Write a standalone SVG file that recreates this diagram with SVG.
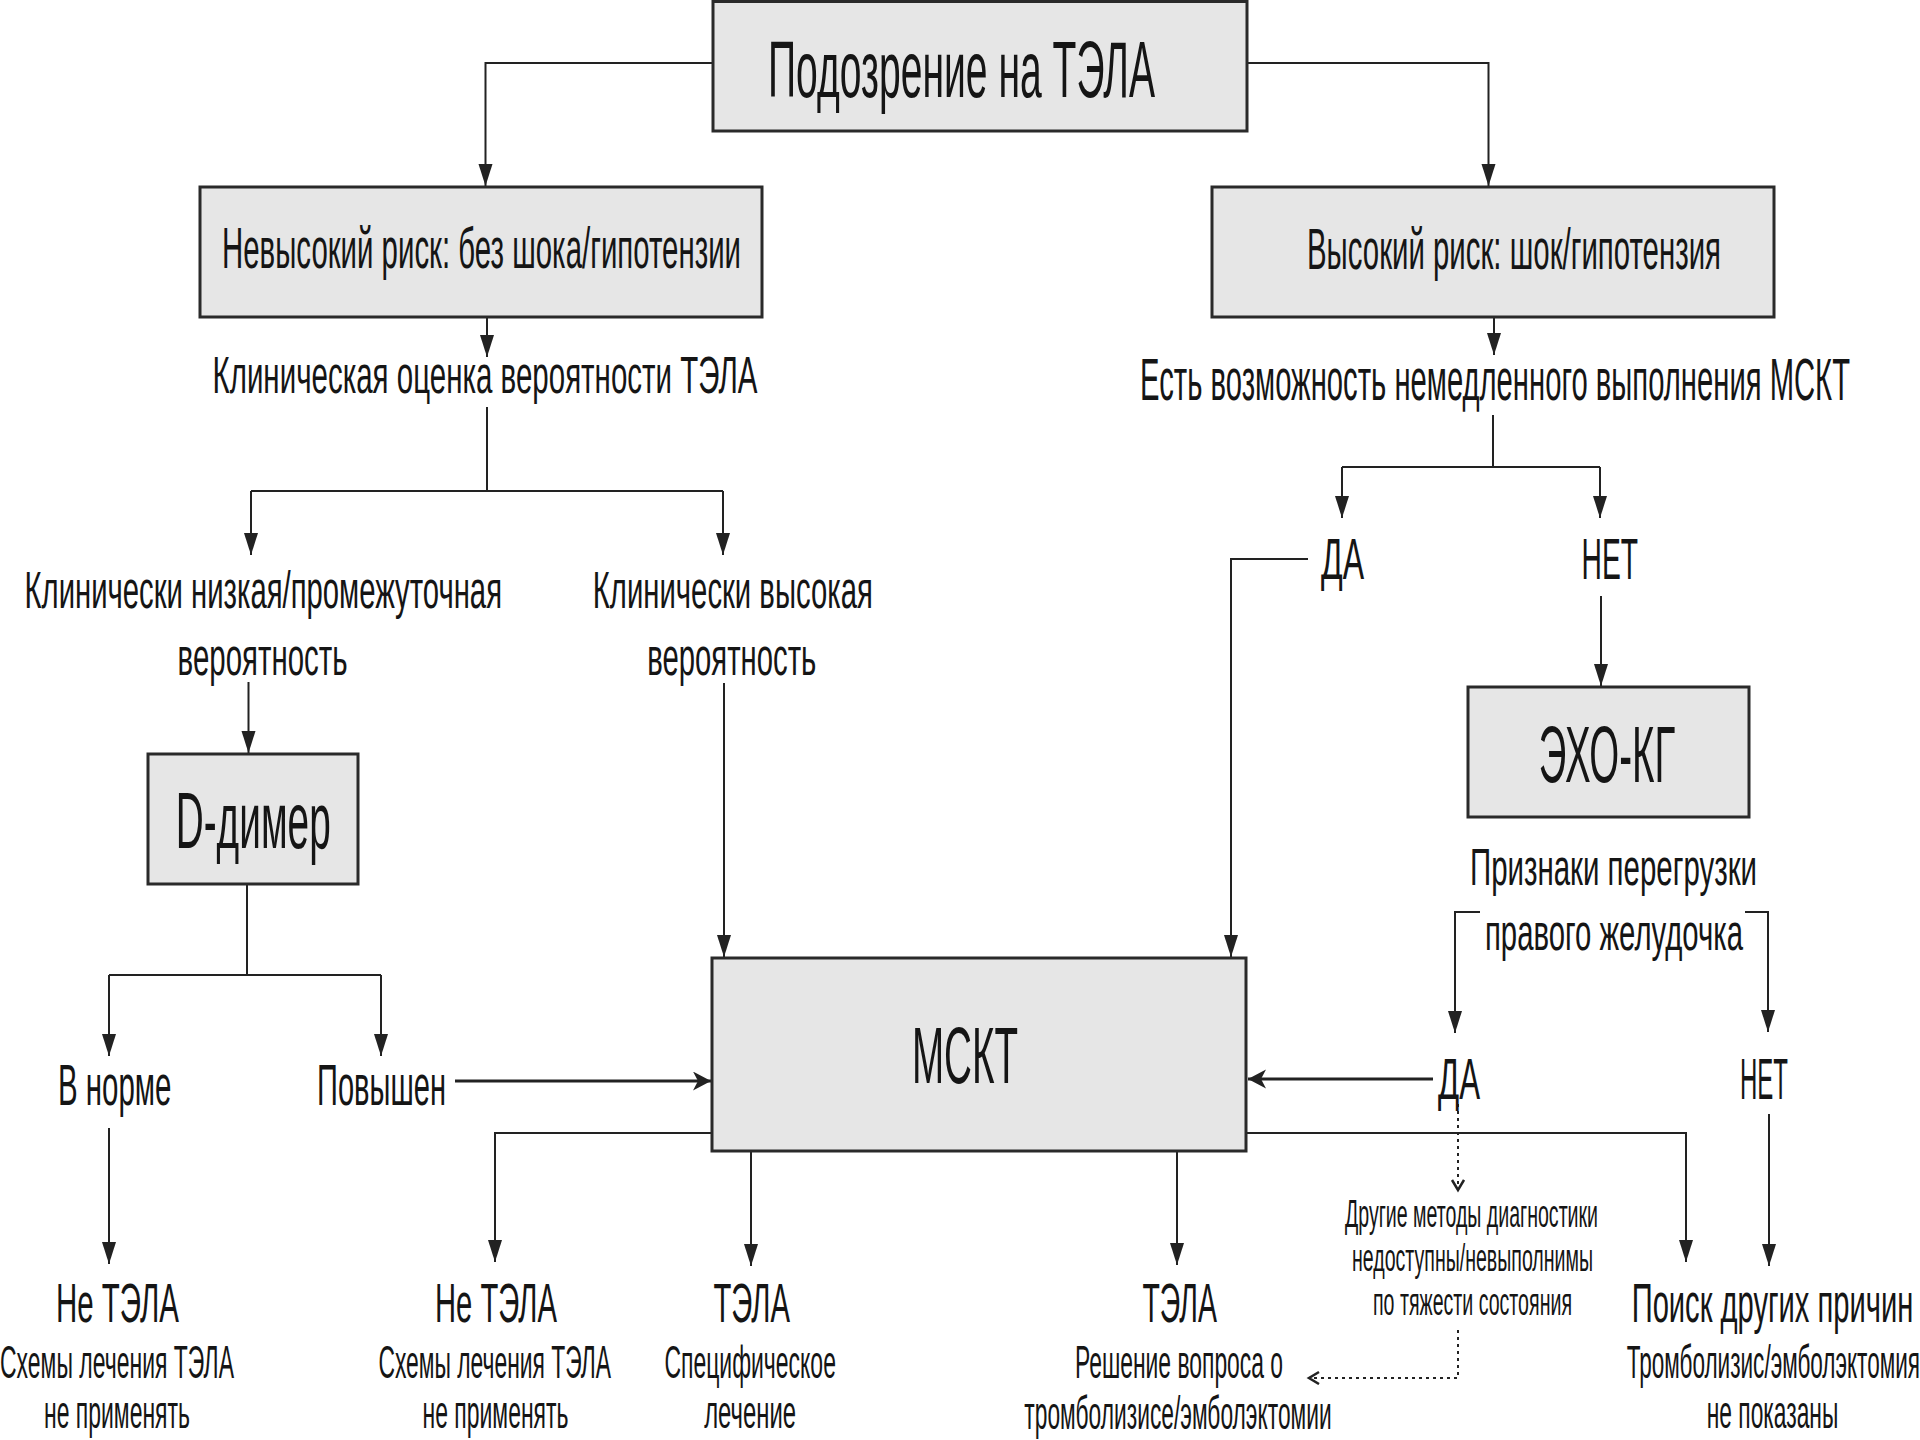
<svg xmlns="http://www.w3.org/2000/svg" width="1920" height="1440" viewBox="0 0 1920 1440">
<style>
  .box { fill: #e6e6e6; stroke: #2a2a2a; stroke-width: 3; }
  .t { font-family: "Liberation Sans", Arial, sans-serif; fill: #151515; }
  .ln { fill: none; stroke: #222; stroke-width: 2; }
  .thick { fill: none; stroke: #222; stroke-width: 3; }
  .dot { fill: none; stroke: #222; stroke-width: 2; stroke-dasharray: 3 4; }
</style>
<defs>
  <marker id="ah" markerUnits="userSpaceOnUse" markerWidth="24" markerHeight="15" refX="22" refY="7" orient="auto">
    <path d="M0,0 L22,7 L0,14 z" fill="#222"/>
  </marker>
  <marker id="ahb" markerUnits="userSpaceOnUse" markerWidth="20" markerHeight="20" refX="18" refY="9.5" orient="auto">
    <path d="M0,0 L18,9.5 L0,19 L5,9.5 z" fill="#222"/>
  </marker>
  <marker id="chev" markerUnits="userSpaceOnUse" markerWidth="16" markerHeight="16" refX="11" refY="7" orient="auto">
    <path d="M1,1 L11,7 L1,13" fill="none" stroke="#222" stroke-width="2.5"/>
  </marker>
</defs>
<rect width="1920" height="1440" fill="#ffffff"/>

<g id="connectors">
  <path class="ln" d="M713,63 H485.5 V186" marker-end="url(#ah)"/>
  <path class="ln" d="M1247,63 H1488.5 V186" marker-end="url(#ah)"/>
  <path class="ln" d="M487,317 V357" marker-end="url(#ah)"/>
  <path class="ln" d="M487,407 V491 M251,491 H723"/>
  <path class="ln" d="M251,491 V555" marker-end="url(#ah)"/>
  <path class="ln" d="M723,491 V555" marker-end="url(#ah)"/>
  <path class="ln" d="M1494,317 V355" marker-end="url(#ah)"/>
  <path class="ln" d="M1493,415 V467 M1342,467 H1600"/>
  <path class="ln" d="M1342,467 V518" marker-end="url(#ah)"/>
  <path class="ln" d="M1600,467 V518" marker-end="url(#ah)"/>
  <path class="ln" d="M1308,559 H1231 V957" marker-end="url(#ah)"/>
  <path class="ln" d="M1601,596 V686" marker-end="url(#ah)"/>
  <path class="ln" d="M248.5,682 V753" marker-end="url(#ah)"/>
  <path class="ln" d="M724,683 V957" marker-end="url(#ah)"/>
  <path class="ln" d="M247,884 V975 M109,975 H381"/>
  <path class="ln" d="M109,975 V1056" marker-end="url(#ah)"/>
  <path class="ln" d="M381,975 V1056" marker-end="url(#ah)"/>
  <path class="thick" d="M455,1081 H711" marker-end="url(#ahb)"/>
  <path class="thick" d="M1433,1079 H1248" marker-end="url(#ahb)"/>
  <path class="ln" d="M1480,912 H1455 V1033" marker-end="url(#ah)"/>
  <path class="ln" d="M1745,912 H1768 V1032" marker-end="url(#ah)"/>
  <path class="ln" d="M109,1128 V1264" marker-end="url(#ah)"/>
  <path class="ln" d="M712,1133 H495 V1262" marker-end="url(#ah)"/>
  <path class="ln" d="M751,1151 V1266" marker-end="url(#ah)"/>
  <path class="ln" d="M1177,1151 V1265" marker-end="url(#ah)"/>
  <path class="ln" d="M1246,1133 H1686 V1262" marker-end="url(#ah)"/>
  <path class="ln" d="M1769,1114 V1266" marker-end="url(#ah)"/>
  <path class="dot" d="M1458,1104 V1190" marker-end="url(#chev)"/>
  <path class="dot" d="M1458,1330 V1378 H1309" marker-end="url(#chev)"/>
</g>

<g id="node-suspect">
  <rect class="box" x="713" y="1.5" width="534" height="129.5"/>
  <text class="t" x="768" y="97" font-size="80" textLength="387" lengthAdjust="spacingAndGlyphs">Подозрение на ТЭЛА</text>
</g>
<g id="node-lowrisk">
  <rect class="box" x="200" y="187" width="562" height="130"/>
  <text class="t" x="222" y="268" font-size="57" textLength="519" lengthAdjust="spacingAndGlyphs">Невысокий риск: без шока/гипотензии</text>
</g>
<g id="node-highrisk">
  <rect class="box" x="1212" y="187" width="562" height="130"/>
  <text class="t" x="1307" y="269" font-size="58" textLength="414" lengthAdjust="spacingAndGlyphs">Высокий риск: шок/гипотензия</text>
</g>
<g id="node-clinical">
  <text class="t" x="212.5" y="393" font-size="51" textLength="545" lengthAdjust="spacingAndGlyphs">Клиническая оценка вероятности ТЭЛА</text>
</g>
<g id="node-msct-possible">
  <text class="t" x="1140" y="400" font-size="59" textLength="710" lengthAdjust="spacingAndGlyphs">Есть возможность немедленного выполнения МСКТ</text>
</g>
<g id="node-low-prob">
  <text class="t" x="24.5" y="608" font-size="51" textLength="477.5" lengthAdjust="spacingAndGlyphs">Клинически низкая/промежуточная</text>
  <text class="t" x="177.6" y="675" font-size="51" textLength="170" lengthAdjust="spacingAndGlyphs">вероятность</text>
</g>
<g id="node-high-prob">
  <text class="t" x="592.8" y="608" font-size="51" textLength="280" lengthAdjust="spacingAndGlyphs">Клинически высокая</text>
  <text class="t" x="647.3" y="675" font-size="51" textLength="169" lengthAdjust="spacingAndGlyphs">вероятность</text>
</g>
<g id="node-yes1">
  <text class="t" x="1321" y="579" font-size="58" textLength="43" lengthAdjust="spacingAndGlyphs">ДА</text>
</g>
<g id="node-no1">
  <text class="t" x="1581.5" y="579" font-size="58" textLength="56.5" lengthAdjust="spacingAndGlyphs">НЕТ</text>
</g>
<g id="node-ddimer">
  <rect class="box" x="148" y="754" width="210" height="130"/>
  <text class="t" x="175.7" y="848" font-size="80" textLength="155" lengthAdjust="spacingAndGlyphs">D-димер</text>
</g>
<g id="node-echo">
  <rect class="box" x="1468" y="687" width="281" height="130"/>
  <text class="t" x="1538.7" y="781.7" font-size="80" textLength="136.5" lengthAdjust="spacingAndGlyphs">ЭХО-КГ</text>
</g>
<g id="node-rv-signs">
  <text class="t" x="1470" y="885" font-size="52" textLength="287" lengthAdjust="spacingAndGlyphs">Признаки перегрузки</text>
  <text class="t" x="1485" y="950" font-size="52" textLength="258" lengthAdjust="spacingAndGlyphs">правого желудочка</text>
</g>
<g id="node-normal">
  <text class="t" x="58" y="1105" font-size="58" textLength="113.5" lengthAdjust="spacingAndGlyphs">В норме</text>
</g>
<g id="node-elevated">
  <text class="t" x="317" y="1105" font-size="58" textLength="129" lengthAdjust="spacingAndGlyphs">Повышен</text>
</g>
<g id="node-msct">
  <rect class="box" x="712" y="958" width="534" height="193"/>
  <text class="t" x="912" y="1083" font-size="80" textLength="106" lengthAdjust="spacingAndGlyphs">МСКТ</text>
</g>
<g id="node-yes2">
  <text class="t" x="1438" y="1099" font-size="58" textLength="42" lengthAdjust="spacingAndGlyphs">ДА</text>
</g>
<g id="node-no2">
  <text class="t" x="1740" y="1099" font-size="58" textLength="48" lengthAdjust="spacingAndGlyphs">НЕТ</text>
</g>
<g id="node-other-methods">
  <text class="t" x="1345" y="1227" font-size="39" textLength="253" lengthAdjust="spacingAndGlyphs">Другие методы диагностики</text>
  <text class="t" x="1352" y="1271" font-size="39" textLength="241" lengthAdjust="spacingAndGlyphs">недоступны/невыполнимы</text>
  <text class="t" x="1373" y="1315" font-size="39" textLength="199" lengthAdjust="spacingAndGlyphs">по тяжести состояния</text>
</g>
<g id="node-not-pe-1">
  <text class="t" x="56" y="1322" font-size="56" textLength="123" lengthAdjust="spacingAndGlyphs">Не ТЭЛА</text>
  <text class="t" x="0" y="1378" font-size="46" textLength="234" lengthAdjust="spacingAndGlyphs">Схемы лечения ТЭЛА</text>
  <text class="t" x="44" y="1428" font-size="46" textLength="146" lengthAdjust="spacingAndGlyphs">не применять</text>
</g>
<g id="node-not-pe-2">
  <text class="t" x="435" y="1322" font-size="56" textLength="122" lengthAdjust="spacingAndGlyphs">Не ТЭЛА</text>
  <text class="t" x="378.4" y="1378" font-size="46" textLength="232.7" lengthAdjust="spacingAndGlyphs">Схемы лечения ТЭЛА</text>
  <text class="t" x="422.5" y="1428" font-size="46" textLength="146" lengthAdjust="spacingAndGlyphs">не применять</text>
</g>
<g id="node-pe-specific">
  <text class="t" x="713.4" y="1322" font-size="56" textLength="76.6" lengthAdjust="spacingAndGlyphs">ТЭЛА</text>
  <text class="t" x="664.4" y="1378" font-size="46" textLength="171.5" lengthAdjust="spacingAndGlyphs">Специфическое</text>
  <text class="t" x="704.2" y="1428" font-size="46" textLength="91.8" lengthAdjust="spacingAndGlyphs">лечение</text>
</g>
<g id="node-pe-thrombolysis">
  <text class="t" x="1142.5" y="1322" font-size="56" textLength="74.5" lengthAdjust="spacingAndGlyphs">ТЭЛА</text>
  <text class="t" x="1075" y="1378" font-size="46" textLength="208" lengthAdjust="spacingAndGlyphs">Решение вопроса о</text>
  <text class="t" x="1024.3" y="1429" font-size="46" textLength="307.4" lengthAdjust="spacingAndGlyphs">тромболизисе/эмболэктомии</text>
</g>
<g id="node-other-causes">
  <text class="t" x="1631.7" y="1322" font-size="56" textLength="281.6" lengthAdjust="spacingAndGlyphs">Поиск других причин</text>
  <text class="t" x="1626.7" y="1378" font-size="46" textLength="293.3" lengthAdjust="spacingAndGlyphs">Тромболизис/эмболэктомия</text>
  <text class="t" x="1706.7" y="1428" font-size="46" textLength="131.6" lengthAdjust="spacingAndGlyphs">не показаны</text>
</g>
</svg>
